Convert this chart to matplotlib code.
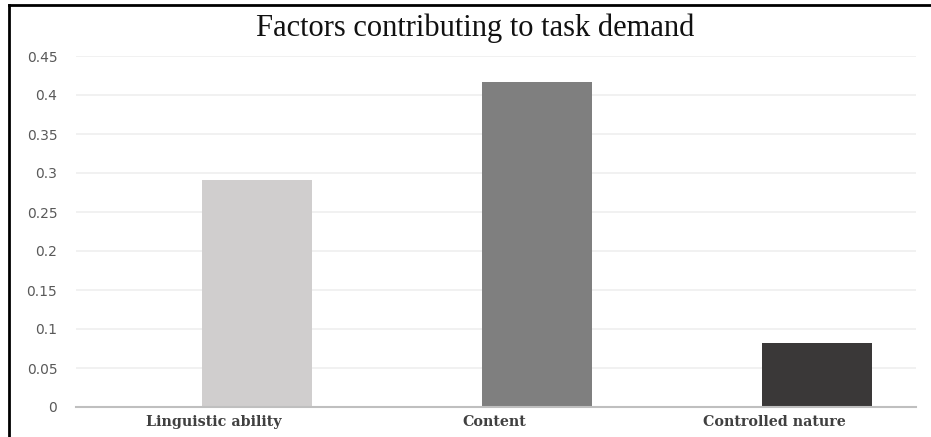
import matplotlib
matplotlib.use("Agg")
import matplotlib.pyplot as plt
import matplotlib.transforms as mtransforms
from matplotlib.lines import Line2D

# data
categories = ["Linguistic ability", "Content", "Controlled nature"]
values = [0.291, 0.417, 0.082]
bar_colors = ["#d0cece", "#7f7f7f", "#3a3838"]
y_ticks = [0, 0.05, 0.1, 0.15, 0.2, 0.25, 0.3, 0.35, 0.4, 0.45]
y_tick_labels = ["0", "0.05", "0.1", "0.15", "0.2", "0.25", "0.3", "0.35", "0.4", "0.45"]

fig = plt.figure(figsize=(9.31, 4.37), dpi=100)
ax = fig.add_axes([76 / 931, 30 / 437, 840 / 931, 351 / 437])

x = range(len(categories))
ax.bar(x, values, width=0.393, color=bar_colors, zorder=3)

ax.set_xlim(-0.646, 2.354)
ax.set_ylim(0, 0.45)
ax.set_yticks(y_ticks)
ax.set_yticklabels(y_tick_labels, color="#595959", fontsize=10, family="DejaVu Sans")
ax.set_xticks(list(x))
ax.set_xticklabels(categories, color="#404040", fontsize=10.3, family="DejaVu Serif",
                   fontweight="bold")
ax.tick_params(axis="both", length=0)
ax.tick_params(axis="y", pad=13.5)
ax.tick_params(axis="x", pad=5.5)

# category labels sit a little left of the bars in the original
shift = mtransforms.ScaledTranslation(-43 / 100, 0, fig.dpi_scale_trans)
for lbl in ax.get_xticklabels():
    lbl.set_transform(lbl.get_transform() + shift)

ax.grid(axis="y", color="#efefef", linewidth=1.2, zorder=0)
for side in ["top", "right", "left"]:
    ax.spines[side].set_visible(False)
ax.spines["bottom"].set_color("#bfbfbf")
ax.spines["bottom"].set_linewidth(1.5)
ax.spines["bottom"].set_zorder(4)

fig.text(475 / 931, 1 - 28 / 437, "Factors contributing to task demand",
         ha="center", va="center", fontsize=22, family="Liberation Serif", color="#111111")

# page border
fig.add_artist(Line2D([9 / 931, 9 / 931], [0, 1 - 5 / 437], color="black", linewidth=2,
                      transform=fig.transFigure))
fig.add_artist(Line2D([9 / 931, 1], [1 - 5 / 437, 1 - 5 / 437], color="black", linewidth=2,
                      transform=fig.transFigure))

fig.savefig("out.png", dpi=100)
